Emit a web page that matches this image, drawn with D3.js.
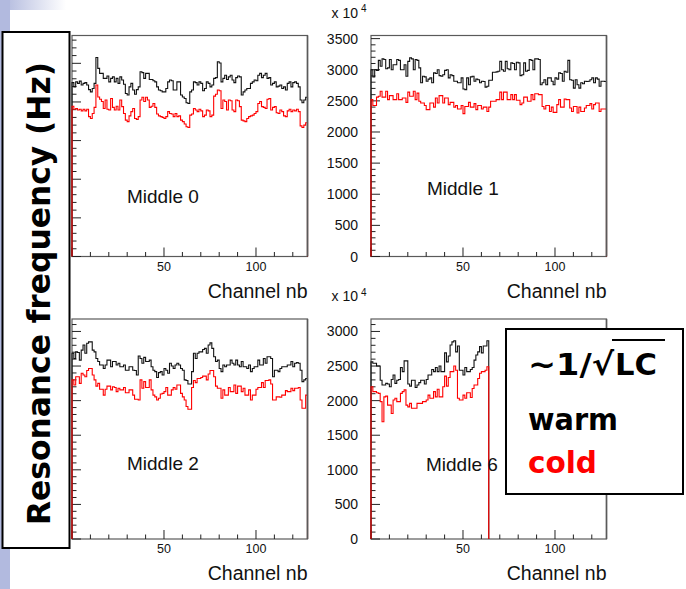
<!DOCTYPE html>
<html>
<head>
<meta charset="utf-8">
<script src="https://cdn.jsdelivr.net/npm/d3@7"></script>
<style>
  html, body { margin: 0; padding: 0; background: #fff; }
  svg { display: block; }
</style>
</head>
<body>
<script>
// ---------------- DATA ----------------
const channelsFull = 128;   // Middle 0, 1, 2
const channelsHalf = 64;    // Middle 6

const xTickLabels = [50, 100];
const yTickLabels = [0, 500, 1000, 1500, 2000, 2500, 3000, 3500];
const panelNames = ["Middle 0", "Middle 1", "Middle 2", "Middle 6"];

const middle0Warm = [2250,2195,2260,2240,2270,2220,2240,2250,2220,2160,
 2130,2175,2240,2575,2435,2370,2370,2305,2305,2335,
 2260,2305,2325,2260,2305,2240,2325,2285,2230,2110,
 2090,2195,2240,2155,2100,2160,2195,2390,2380,2305,
 2370,2370,2290,2290,2275,2260,2195,2155,2145,2130,
 2130,2175,2260,2285,2275,2155,2155,2260,2260,2090,
 2065,2045,1990,1980,2130,2155,2260,2250,2220,2260,
 2240,2145,2175,2260,2240,2195,2220,2305,2315,2520,
 2505,2260,2305,2345,2290,2325,2345,2285,2250,2315,
 2335,2325,2090,2130,2155,2175,2175,2240,2260,2285,
 2275,2345,2370,2315,2345,2370,2305,2315,2220,2240,
 2260,2195,2205,2220,2175,2195,2155,2240,2260,2195,
 2250,2260,2240,2195,2025,1990,2025,2060];
const middle0Cold = [1945,1905,1915,1895,1905,1885,1905,1885,1905,1810,
 1785,1850,1930,2220,2065,2035,2005,1915,2025,1905,
 1895,2045,1930,1895,1945,1895,2025,1940,1850,1765,
 1745,1820,1875,1915,1785,1775,1810,2025,2060,2005,
 2060,2025,1930,1945,1980,1930,1845,1820,1810,1800,
 1785,1810,1875,1850,1845,1810,1850,1810,1820,1765,
 1745,1715,1680,1670,1830,1845,1915,1895,1875,1905,
 1885,1810,1830,1895,1885,1810,1830,2075,2100,2155,
 2145,1915,2025,2005,1895,2025,2015,1895,1875,2025,
 2015,1940,1765,1755,1745,1785,1810,1820,1830,1850,
 1875,1980,2005,1940,1930,1915,2035,2045,1895,1930,
 1940,1860,1850,1895,1875,1820,1810,1885,1905,1875,
 1895,1885,1905,1875,1690,1670,1700,1730];

const middle1Warm = [3000,2885,3000,2990,3150,3055,3175,3165,3015,3030,
 3165,3000,3080,3080,3165,3150,3000,3000,3080,2895,
 3135,3190,3175,3000,3165,3150,3030,2790,2895,2885,
 2815,2850,2870,2790,2950,2940,3000,2905,2895,2920,
 2990,3000,2870,2920,2905,2815,2815,2790,2790,2870,
 2690,2680,2870,2760,2885,2895,2815,2850,2840,2790,
 2815,2810,2720,2735,2830,2830,2960,2960,2965,2975,
 3135,3000,2975,3135,3015,3000,3110,3100,3000,3120,
 3110,2905,2920,3110,2975,2990,3165,3150,3000,3175,
 3175,3165,2760,2790,2840,2760,2870,2870,2815,2760,
 2870,2850,2950,2940,2815,2975,2960,3150,2840,2830,
 2705,2840,2760,2705,2790,2775,2815,2810,2815,2840,
 2870,2790,2870,2850,2735,2815,2815,2810];
const middle1Cold = [2520,2425,2425,2560,2575,2655,2560,2560,2655,2520,
 2585,2585,2520,2520,2615,2520,2520,2545,2545,2475,
 2640,2575,2575,2655,2520,2625,2495,2465,2465,2425,
 2360,2360,2465,2465,2400,2545,2465,2585,2585,2465,
 2545,2545,2440,2475,2475,2400,2425,2370,2370,2425,
 2295,2410,2410,2475,2400,2400,2455,2360,2425,2425,
 2370,2400,2400,2330,2400,2495,2495,2495,2520,2520,
 2640,2520,2640,2640,2520,2520,2600,2520,2600,2510,
 2510,2440,2465,2560,2560,2495,2495,2600,2520,2615,
 2615,2600,2600,2410,2370,2425,2425,2330,2400,2315,
 2315,2440,2520,2400,2400,2530,2520,2520,2385,2330,
 2410,2410,2305,2400,2330,2330,2385,2425,2425,2455,
 2370,2440,2465,2465,2330,2370,2370,2370];

const middle2Warm = [2685,2610,2705,2695,2585,2730,2805,2685,2830,2850,
 2850,2730,2705,2610,2565,2515,2515,2465,2515,2585,
 2585,2490,2565,2565,2515,2540,2490,2490,2515,2440,
 2440,2490,2490,2440,2435,2370,2645,2610,2540,2625,
 2565,2565,2585,2490,2440,2420,2335,2405,2420,2370,
 2465,2440,2395,2540,2500,2465,2515,2540,2515,2465,
 2440,2300,2290,2240,2240,2420,2685,2610,2685,2705,
 2705,2740,2755,2685,2805,2835,2755,2635,2565,2585,
 2465,2420,2515,2490,2515,2515,2585,2540,2515,2585,
 2515,2490,2565,2490,2490,2465,2515,2420,2465,2490,
 2490,2585,2515,2515,2610,2540,2635,2635,2610,2345,
 2440,2440,2420,2465,2490,2490,2490,2515,2515,2565,
 2490,2540,2550,2540,2440,2275,2300,2320];
const middle2Cold = [2300,2225,2345,2345,2250,2395,2370,2345,2435,2465,
 2465,2370,2300,2210,2250,2165,2165,2080,2165,2210,
 2210,2155,2200,2190,2130,2180,2155,2155,2190,2115,
 2115,2155,2155,2080,2020,2020,2010,2300,2180,2275,
 2190,2190,2300,2155,2080,2055,2010,2035,2095,2105,
 2130,2190,2080,2080,2155,2190,2165,2225,2225,2105,
 2055,2010,1915,1875,1875,2190,2290,2260,2320,2320,
 2335,2355,2355,2300,2385,2435,2435,2345,2210,2180,
 2180,2035,2155,2080,2080,2190,2130,2130,2225,2105,
 2210,2210,2130,2180,2080,2080,2155,2010,2080,2080,
 2165,2190,2190,2260,2190,2290,2290,2300,2240,2010,
 2010,2055,2055,2050,2080,2080,2145,2130,2130,2180,
 2145,2180,2180,2190,2010,1890,1890,2080];

const middle6Warm = [2560,2540,2540,2500,2500,2295,2225,2225,2250,2240,
 2200,2305,2370,2250,2295,2305,2480,2420,2575,2575,
 2240,2210,2295,2295,2190,2225,2260,2295,2295,2240,
 2305,2370,2370,2450,2420,2480,2420,2500,2420,2420,
 2690,2560,2645,2805,2850,2865,2705,2790,2440,2440,
 2370,2480,2420,2420,2450,2480,2585,2660,2705,2780,
 2690,2790,2790,2865];
const middle6Cold = [2200,2130,2130,2115,2105,1985,1695,2055,2065,1935,
 1935,1815,2010,2035,1985,1985,2105,2130,2155,1935,
 1910,1960,1890,1890,1890,1960,1960,1960,1985,1985,
 2010,2080,2035,2035,2130,2055,2165,2055,2055,2200,
 2355,2210,2335,2420,2420,2500,2440,2035,2010,2010,
 2080,2035,2115,2115,2045,2175,2225,2225,2320,2395,
 2420,2420,2440,2490];

const yAxisTitle = "Resonance frequency (Hz)";
const xAxisTitle = "Channel nb";

// ---------------- LAYOUT ----------------
const W = 686, H = 589;
const FONT = "'Liberation Sans', Arial, Helvetica, sans-serif";
const BOLD = "'DejaVu Sans', sans-serif";

const layout = [
  { x: 72,  y: 35.5, w: 235.5, h: 221, ymax: 2860, lx: 127, ly: 203, exp: false, warm: middle0Warm, cold: middle0Cold },
  { x: 371, y: 35.5, w: 235.5, h: 221, ymax: 3550, lx: 427, ly: 195, exp: true,  warm: middle1Warm, cold: middle1Cold },
  { x: 72,  y: 319,  w: 235.5, h: 220, ymax: 3180, lx: 127, ly: 470, exp: false, warm: middle2Warm, cold: middle2Cold },
  { x: 371, y: 319,  w: 235.5, h: 220, ymax: 3180, lx: 426, ly: 471, exp: true,  warm: middle6Warm, cold: middle6Cold },
];

const svg = d3.select("body").append("svg")
  .attr("width", W).attr("height", H)
  .attr("viewBox", `0 0 ${W} ${H}`);

// slide decoration
const defs = svg.append("defs");
const grad = defs.append("linearGradient").attr("id", "topgrad")
  .attr("x1", "0").attr("x2", "1").attr("y1", "0").attr("y2", "0");
grad.append("stop").attr("offset", "0").attr("stop-color", "#aeb6dc");
grad.append("stop").attr("offset", "1").attr("stop-color", "#ffffff");
svg.append("rect").attr("x", 0).attr("y", 0).attr("width", 66).attr("height", 10).attr("fill", "url(#topgrad)");
svg.append("rect").attr("x", 0).attr("y", 0).attr("width", 10).attr("height", H).attr("fill", "#b2badf");

layout.forEach((p, idx) => {
  const g = svg.append("g");
  const x = d3.scaleLinear().domain([0, channelsFull]).range([p.x, p.x + p.w]);
  const y = d3.scaleLinear().domain([0, p.ymax]).range([p.y + p.h, p.y]);

  // frame
  g.append("rect")
    .attr("x", x(0)).attr("y", y(p.ymax))
    .attr("width", x(channelsFull) - x(0)).attr("height", y(0) - y(p.ymax))
    .attr("fill", "none").attr("stroke", "#5a5a5a").attr("stroke-width", 1.2);

  // x ticks
  const xt = d3.range(0, channelsFull + 1, 10);
  g.selectAll(".xt").data(xt).enter().append("line")
    .attr("x1", d => x(d)).attr("x2", d => x(d))
    .attr("y1", y(0)).attr("y2", d => y(0) - (d % 50 === 0 ? 9 : 4.5))
    .attr("stroke", "#222").attr("stroke-width", 1);
  g.selectAll(".xl").data(xTickLabels).enter().append("text")
    .attr("x", d => x(d)).attr("y", y(0) + 14)
    .attr("text-anchor", "middle")
    .attr("font-family", FONT).attr("font-size", 12.5).attr("fill", "#111")
    .text(d => d);

  // y ticks
  const yt = d3.range(0, p.ymax, 100);
  g.selectAll(".yt").data(yt).enter().append("line")
    .attr("x1", x(0)).attr("x2", d => x(0) + (d % 500 === 0 ? 9 : 4.5))
    .attr("y1", d => y(d)).attr("y2", d => y(d))
    .attr("stroke", "#222").attr("stroke-width", 1);
  g.selectAll(".yl").data(yTickLabels.filter(v => v <= p.ymax)).enter().append("text")
    .attr("x", x(0) - 13).attr("y", d => y(d) + 5)
    .attr("text-anchor", "end")
    .attr("font-family", FONT).attr("font-size", 14).attr("fill", "#111")
    .text(d => d);

  if (p.exp) {
    const e = g.append("text").attr("x", x(0) - 39.5).attr("y", y(p.ymax) - 18)
      .attr("font-family", FONT).attr("font-size", 14).attr("fill", "#111");
    e.append("tspan").text("x 10");
    e.append("tspan").attr("dx", 3).attr("dy", -5.5).attr("font-size", 10).text("4");
  }

  // histograms
  const line = d3.line().x(d => x(d[0])).y(d => y(d[1])).curve(d3.curveStepAfter);
  const toPts = vals => {
    const pts = [[0, 0]];
    vals.forEach((v, i) => pts.push([i, v]));
    pts.push([vals.length, vals[vals.length - 1]]);
    pts.push([vals.length, 0]);
    return pts;
  };
  g.append("path").attr("d", line(toPts(p.warm)))
    .attr("fill", "none").attr("stroke", "#111").attr("stroke-width", 1.1);
  g.append("path").attr("d", line(toPts(p.cold)))
    .attr("fill", "none").attr("stroke", "#ff0000").attr("stroke-width", 1.1);

  // right frame edge redrawn over the histograms
  g.append("line")
    .attr("x1", x(channelsFull)).attr("x2", x(channelsFull))
    .attr("y1", y(0)).attr("y2", y(p.ymax))
    .attr("stroke", "#5a5a5a").attr("stroke-width", 1.6);

  // labels
  g.append("text").attr("x", p.lx).attr("y", p.ly)
    .attr("font-family", FONT).attr("font-size", 19).attr("fill", "#111")
    .text(panelNames[idx]);
  g.append("text").attr("x", x(channelsFull)).attr("y", y(0) + 41)
    .attr("text-anchor", "end")
    .attr("font-family", FONT).attr("font-size", 19.5).attr("fill", "#111")
    .text(xAxisTitle);
});

// Y title box
svg.append("rect").attr("x", 2.5).attr("y", 32).attr("width", 67).attr("height", 516)
  .attr("fill", "#fff").attr("stroke", "#000").attr("stroke-width", 2);
svg.append("text")
  .attr("transform", "translate(50,293.5) rotate(-90)")
  .attr("text-anchor", "middle")
  .attr("font-family", BOLD).attr("font-weight", "bold").attr("font-size", 32)
  .attr("textLength", 463).attr("lengthAdjust", "spacingAndGlyphs")
  .attr("fill", "#000")
  .text(yAxisTitle);

// legend box
svg.append("rect").attr("x", 506).attr("y", 329).attr("width", 177).attr("height", 165)
  .attr("fill", "#fff").attr("stroke", "#000").attr("stroke-width", 2);
svg.append("text").attr("x", 528).attr("y", 375)
  .attr("font-family", BOLD).attr("font-weight", "bold").attr("font-size", 31)
  .attr("textLength", 86).attr("lengthAdjust", "spacingAndGlyphs")
  .text("~1/\u221A");
svg.append("text").attr("x", 615).attr("y", 375)
  .attr("font-family", BOLD).attr("font-weight", "bold").attr("font-size", 31)
  .attr("textLength", 42).attr("lengthAdjust", "spacingAndGlyphs")
  .text("LC");
svg.append("line").attr("x1", 612).attr("x2", 665).attr("y1", 340).attr("y2", 340)
  .attr("stroke", "#000").attr("stroke-width", 2);
svg.append("text").attr("x", 528).attr("y", 430)
  .attr("font-family", BOLD).attr("font-weight", "bold").attr("font-size", 31)
  .attr("textLength", 90).attr("lengthAdjust", "spacingAndGlyphs")
  .text("warm");
svg.append("text").attr("x", 528).attr("y", 473)
  .attr("font-family", BOLD).attr("font-weight", "bold").attr("font-size", 31)
  .attr("textLength", 69).attr("lengthAdjust", "spacingAndGlyphs")
  .attr("fill", "#ff0000")
  .text("cold");
</script>
</body>
</html>
